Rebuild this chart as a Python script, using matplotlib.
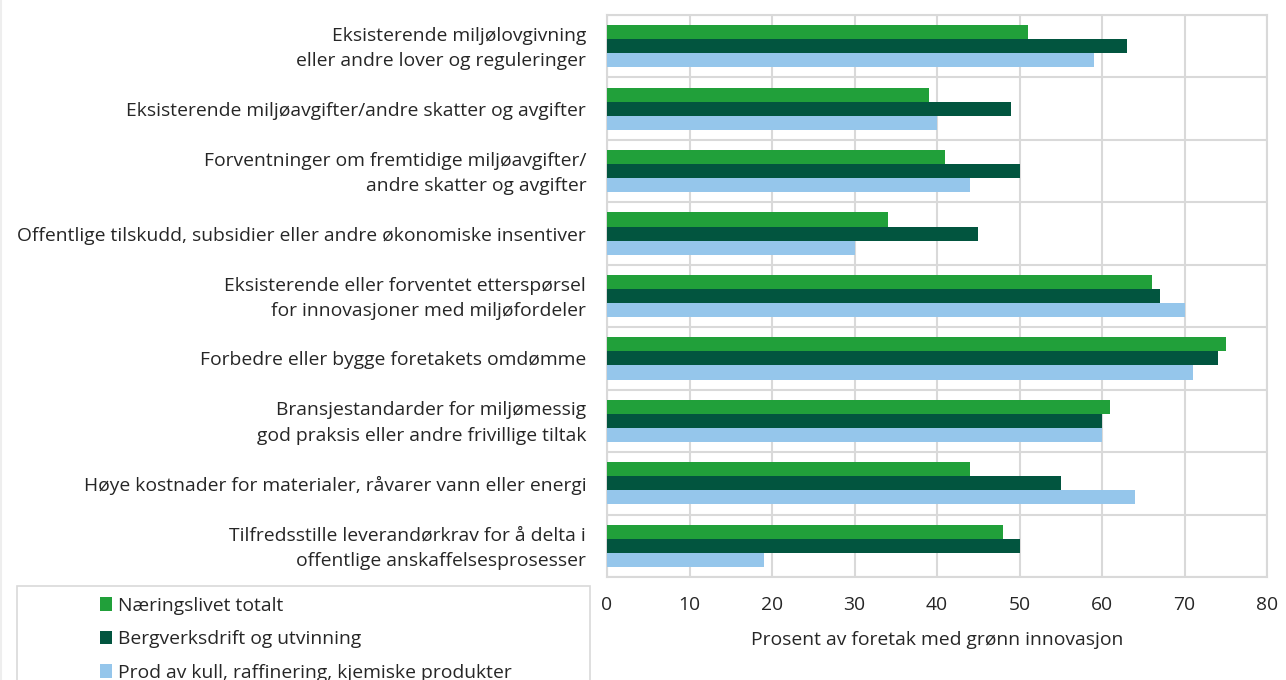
import matplotlib
matplotlib.use("Agg")
import matplotlib.pyplot as plt
import matplotlib.transforms as mtransforms
import numpy as np
from matplotlib.patches import Rectangle, Patch
from matplotlib.lines import Line2D

plt.rcParams['font.family'] = ['Open Sans', 'DejaVu Sans']

categories = [
    "Eksisterende miljølovgivning\neller andre lover og reguleringer",
    "Eksisterende miljøavgifter/andre skatter og avgifter",
    "Forventninger om fremtidige miljøavgifter/\nandre skatter og avgifter",
    "Offentlige tilskudd, subsidier eller andre økonomiske insentiver",
    "Eksisterende eller forventet etterspørsel\nfor innovasjoner med miljøfordeler",
    "Forbedre eller bygge foretakets omdømme",
    "Bransjestandarder for miljømessig\ngod praksis eller andre frivillige tiltak",
    "Høye kostnader for materialer, råvarer vann eller energi",
    "Tilfredsstille leverandørkrav for å delta i\noffentlige anskaffelsesprosesser",
]
series_names = [
    "Næringslivet totalt",
    "Bergverksdrift og utvinning",
    "Prod av kull, raffinering, kjemiske produkter",
]
naeringslivet = [51, 39, 41, 34, 66, 75, 61, 44, 48]
bergverk = [63, 49, 50, 45, 67, 74, 60, 55, 50]
kjemisk = [59, 40, 44, 30, 70, 71, 60, 64, 19]
xticks = [0, 10, 20, 30, 40, 50, 60, 70, 80]
xlabel = "Prosent av foretak med grønn innovasjon"

colors = ["#21A03A", "#02553F", "#95C6EB"]
grid_c = "#D9D9D9"
text_c = "#262626"
fs = 13.9

W, H = 1286, 680
fig = plt.figure(figsize=(W / 100, H / 100), dpi=100)
ax = fig.add_axes([607 / W, 1 - 577 / H, (1267 - 607) / W, (577 - 15) / H])

y = np.arange(len(categories))
bh = 0.225
for k, vals in enumerate([naeringslivet, bergverk, kjemisk]):
    ax.barh(y + (k - 1) * bh, vals, height=bh, color=colors[k], zorder=3,
            label=series_names[k])

ax.set_xlim(0, 80)
ax.set_ylim(len(categories) - 0.5, -0.5)
ax.set_xticks(xticks)
ax.set_xticklabels([str(t) for t in xticks], fontsize=fs, color=text_c)
ax.set_yticks(y)
ax.set_yticklabels(categories, fontsize=fs, color=text_c, linespacing=1.55)
ax.set_yticks(np.arange(len(categories) + 1) - 0.5, minor=True)
ax.tick_params(axis='both', which='both', length=0)
ax.tick_params(axis='y', pad=15)
ax.tick_params(axis='x', pad=14)
ax.grid(axis='x', which='major', color=grid_c, lw=1.5, zorder=0)
ax.grid(axis='y', which='minor', color=grid_c, lw=1.5, zorder=0)
for s in ax.spines.values():
    s.set_color(grid_c)
    s.set_linewidth(1.5)
ax.set_xlabel(xlabel, fontsize=fs, color=text_c, labelpad=12)

# nudge two-line labels up slightly
for lbl in ax.get_yticklabels():
    if "\n" in lbl.get_text():
        lbl.set_transform(lbl.get_transform() +
                          mtransforms.ScaledTranslation(0, 3.5 / 100, fig.dpi_scale_trans))

# faint outer border at left edge
fig.lines.append(Line2D([1 / W, 1 / W], [0, 1], transform=fig.transFigure,
                        color="#EEEEEE", lw=1.5))

# legend box (extends past bottom of figure)
fig.patches.append(Rectangle((17 / W, -0.1), (590 - 17) / W, 0.1 + (680 - 586) / H,
                             transform=fig.transFigure, fill=False,
                             edgecolor=grid_c, lw=1.2))
handles = [Patch(facecolor=c, edgecolor='none') for c in colors]
fig.legend(handles, series_names, loc='upper left',
           bbox_to_anchor=(90 / W, 1 - 587 / H), frameon=False,
           fontsize=fs, handlelength=0.65, handleheight=0.7,
           handletextpad=0.3, labelspacing=0.8, borderpad=0,
           labelcolor=text_c)

fig.savefig("out.png", dpi=100)
